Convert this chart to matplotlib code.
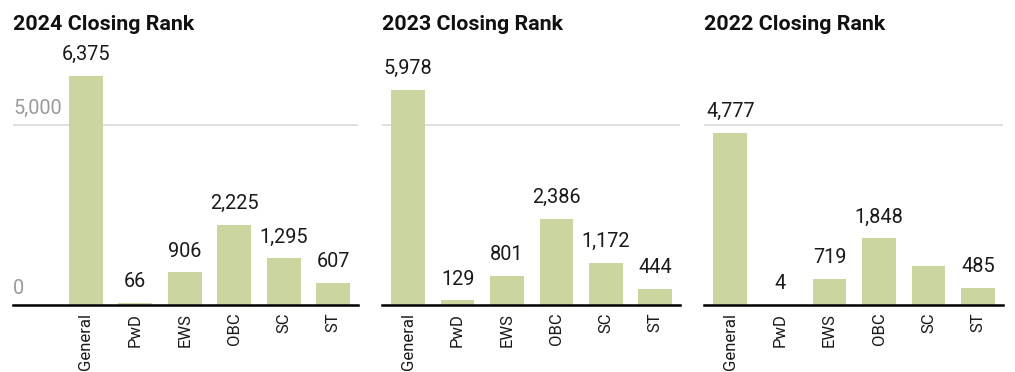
import matplotlib
matplotlib.use('Agg')
import matplotlib.pyplot as plt
import matplotlib.transforms as mtransforms

plt.rcParams['font.family'] = ['Roboto', 'DejaVu Sans']

# data
categories = ['General', 'PwD', 'EWS', 'OBC', 'SC', 'ST']
rank_2024 = [6375, 66, 906, 2225, 1295, 607]
rank_2023 = [5978, 129, 801, 2386, 1172, 444]
rank_2022 = [4777, 4, 719, 1848, 1070, 485]   # SC value not labelled in source, estimated
titles = ['2024 Closing Rank', '2023 Closing Rank', '2022 Closing Rank']
hidden_labels = [[], [], ['SC']]
yticks = [0, 5000]

bar_color = '#cad5a0'
text_color = '#1a1a1a'

fig = plt.figure(figsize=(10.15, 3.72), dpi=100)

# axes boxes in figure fraction (left, width) and x limits
boxes = [(13 / 1015, 345 / 1015), (382 / 1015, 298 / 1015), (704 / 1015, 299 / 1015)]
xlims = [(-1.47, 5.5), (-0.53, 5.5), (-0.53, 5.5)]
bottom = 67 / 372
height = 7000 * 0.036 / 372

for i, values in enumerate([rank_2024, rank_2023, rank_2022]):
    left, width = boxes[i]
    ax = fig.add_axes([left, bottom, width, height])
    x = list(range(len(categories)))
    ax.bar(x, values, width=0.68, color=bar_color, zorder=2)
    ax.set_xlim(*xlims[i])
    ax.set_ylim(0, 7000)

    # gridline at 5000
    ax.axhline(5000, color='#dddddd', lw=1.3, zorder=0)

    for s in ['top', 'right', 'left']:
        ax.spines[s].set_visible(False)
    ax.spines['bottom'].set_color('black')
    ax.spines['bottom'].set_linewidth(1.8)
    ax.spines['bottom'].set_zorder(3)

    ax.set_yticks([])
    ax.set_xticks(x)
    ax.set_xticklabels(categories, rotation=90, fontsize=12, color=text_color)
    ax.tick_params(axis='x', length=0, pad=5.5)

    # value labels
    for xi, (cat, v) in enumerate(zip(categories, values)):
        if cat in hidden_labels[i]:
            continue
        ax.annotate(f'{v:,}', (xi, v), xytext=(0, 8.5), textcoords='offset points',
                    ha='center', va='bottom', fontsize=14.3, color=text_color)

    # y tick labels only on the first panel
    if i == 0:
        trans = mtransforms.blended_transform_factory(ax.transAxes, ax.transData)
        for t in yticks:
            ax.annotate(f'{t:,}', (0, t), xycoords=trans, xytext=(0, 5),
                        textcoords='offset points', ha='left', va='bottom',
                        fontsize=14.3, color='#9a9a9a')

    fig.text(left, 1 - 30 / 372, titles[i], fontsize=15.4, fontweight='bold',
             color='#111111', ha='left', va='baseline')

fig.savefig('out.png', dpi=100)
